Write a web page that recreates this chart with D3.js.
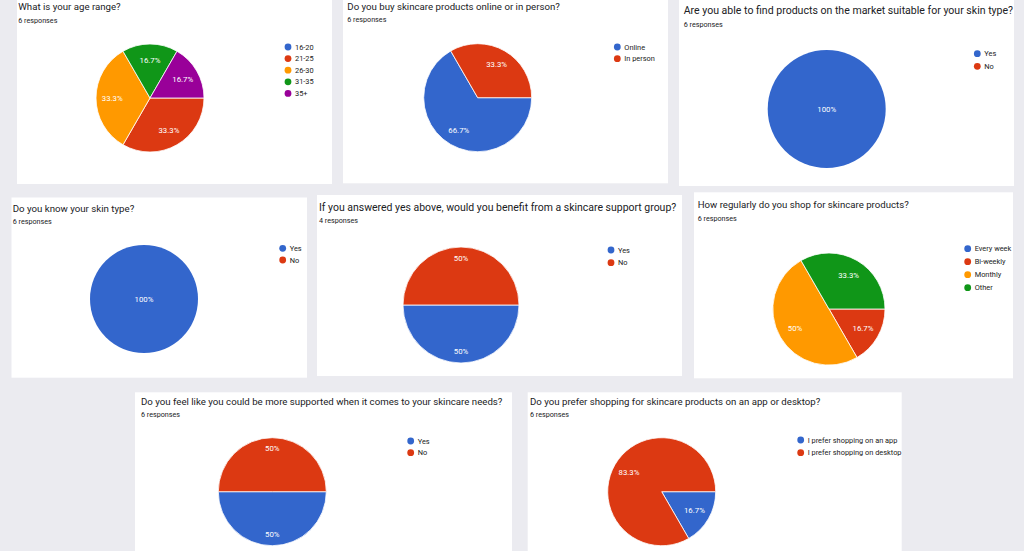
<!DOCTYPE html>
<html>
<head>
<meta charset="utf-8">
<script src="https://cdn.jsdelivr.net/npm/d3@7"></script>
<style>
  html, body { margin: 0; padding: 0; background: #ebebf0; overflow: hidden; }
  svg { display: block; font-family: Roboto, "Noto Sans", Arial, sans-serif; }
</style>
</head>
<body>
<svg id="chart" width="1024" height="551"></svg>
<script>
// ---------- DATA ----------
const questions = [
  "What is your age range?",
  "Do you buy skincare products online or in person?",
  "Are you able to find products on the market suitable for your skin type?",
  "Do you know your skin type?",
  "If you answered yes above, would you benefit from a skincare support group?",
  "How regularly do you shop for skincare products?",
  "Do you feel like you could be more supported when it comes to your skincare needs?",
  "Do you prefer shopping for skincare products on an app or desktop?"
];
const responseCounts = [6, 6, 6, 6, 4, 6, 6, 6];

const ageRanges = ["16-20", "21-25", "26-30", "31-35", "35+"];
const ageCounts = [0, 2, 2, 1, 1];

const buyChannels = ["Online", "In person"];
const buyCounts = [4, 2];

const suitableAnswers = ["Yes", "No"];
const suitableCounts = [6, 0];

const knowTypeAnswers = ["Yes", "No"];
const knowTypeCounts = [6, 0];

const groupAnswers = ["Yes", "No"];
const groupCounts = [2, 2];

const frequencies = ["Every week", "Bi-weekly", "Monthly", "Other"];
const frequencyCounts = [0, 1, 3, 2];

const supportedAnswers = ["Yes", "No"];
const supportedCounts = [3, 3];

const deviceAnswers = ["I prefer shopping on an app", "I prefer shopping on desktop"];
const deviceCounts = [1, 5];

const palette = ["#3366cc", "#dc3912", "#ff9900", "#109618", "#990099"];

const categoriesByChart = [ageRanges, buyChannels, suitableAnswers, knowTypeAnswers,
  groupAnswers, frequencies, supportedAnswers, deviceAnswers];
const valuesByChart = [ageCounts, buyCounts, suitableCounts, knowTypeCounts,
  groupCounts, frequencyCounts, supportedCounts, deviceCounts];

// ---------- LAYOUT (positions / sizes only) ----------
const layout = [
  {x: 17,    y: -5,    w: 315, h: 189,   tx: 18.3,  cx: 150,   cy: 98,    r: 54, lx: 288,   ly: 47,    ls: 11.6, ty: 10,    sy: 22.5,  tw: 102.4, lr: 0.7},
  {x: 343,   y: -5,    w: 325, h: 188.3, tx: 347.3, cx: 477.7, cy: 97.7,  r: 54, lx: 617.3, ly: 47,    ls: 11.7, ty: 10,    sy: 22.3,  tw: 212.7, lr: 0.7},
  {x: 679,   y: -5,    w: 335, h: 191,   tx: 683.7, cx: 826.7, cy: 109,   r: 59, lx: 977.3, ly: 53.7,  ls: 12.6, ty: 14,    sy: 27.3,  tw: 329.7, lr: 0.7},
  {x: 11.5,  y: 197.5, w: 295.5, h: 180.2, tx: 12.7, cx: 144,  cy: 299,   r: 54, lx: 282.7, ly: 248.3, ls: 11.7, ty: 211.7, sy: 223.7, tw: 121.7, lr: 0.7},
  {x: 317,   y: 195,   w: 365, h: 181,   tx: 319,   cx: 461,   cy: 305,   r: 58, lx: 611,   ly: 250,   ls: 12.7, ty: 211,   sy: 223.3, tw: 357.7, lr: 0.8},
  {x: 694,   y: 192.3, w: 319, h: 186,   tx: 697.7, cx: 829,   cy: 309,   r: 56, lx: 967.7, ly: 248.7, ls: 13,   ty: 207.7, sy: 221,   tw: 211.3, lr: 0.7},
  {x: 135,   y: 392.3, w: 377, h: 170,   tx: 141,   cx: 272.3, cy: 491.7, r: 54, lx: 410.7, ly: 441,   ls: 11.7, ty: 405,   sy: 416.7, tw: 362.3, lr: 0.8},
  {x: 527.7, y: 392.3, w: 374, h: 170,   tx: 530,   cx: 661.7, cy: 491.7, r: 54, lx: 800.7, ly: 440,   ls: 12.7, ty: 405,   sy: 416.7, tw: 290.7, lr: 0.7}
];

// ---------- DRAW ----------
const svg = d3.select("#chart");
const color = d3.scaleOrdinal().domain(d3.range(palette.length)).range(palette);

questions.forEach((q, i) => {
  const L = layout[i];
  const cats = categoriesByChart[i];
  const vals = valuesByChart[i];
  const total = d3.sum(vals);
  const g = svg.append("g");

  g.append("rect").attr("x", L.x).attr("y", L.y).attr("width", L.w).attr("height", L.h)
    .attr("fill", "#ffffff");

  const title = g.append("text").attr("x", L.tx).attr("y", L.ty)
    .attr("fill", "#202124").attr("font-size", 12).text(q);
  const tl = title.node().getComputedTextLength();
  const fs = 12 * L.tw / tl;
  title.attr("font-size", fs.toFixed(2));

  g.append("text").attr("x", L.tx).attr("y", L.sy)
    .attr("fill", "#202124").attr("font-size", 7.2)
    .text(responseCounts[i] + " responses");

  const pie = d3.pie().sort(null).value(d => d.v)
    .startAngle(Math.PI / 2).endAngle(Math.PI / 2 + 2 * Math.PI);
  const arcs = pie(cats.map((c, k) => ({c, v: vals[k], k})));
  const arc = d3.arc().innerRadius(0).outerRadius(L.r);
  const labelArc = d3.arc().innerRadius(L.r * L.lr).outerRadius(L.r * L.lr);

  const pg = g.append("g").attr("transform", `translate(${L.cx},${L.cy})`);
  pg.selectAll("path").data(arcs.filter(a => a.data.v > 0)).join("path")
    .attr("d", arc)
    .attr("fill", a => color(a.data.k))
    .attr("stroke", "#ffffff").attr("stroke-width", a => a.data.v === total ? 0 : 0.8);

  pg.selectAll("text").data(arcs.filter(a => a.data.v > 0)).join("text")
    .attr("transform", a => a.data.v === total ? "translate(0,0)" : `translate(${labelArc.centroid(a)})`)
    .attr("text-anchor", "middle").attr("dominant-baseline", "central")
    .attr("fill", "#ffffff").attr("font-size", 7.8)
    .text(a => {
      const p = a.data.v / total * 100;
      return (Math.round(p * 10) / 10) + "%";
    });

  const lg = g.append("g");
  cats.forEach((c, k) => {
    lg.append("circle").attr("cx", L.lx).attr("cy", L.ly + k * L.ls).attr("r", 3.4)
      .attr("fill", color(k));
    lg.append("text").attr("x", L.lx + 7).attr("y", L.ly + k * L.ls)
      .attr("dominant-baseline", "central").attr("fill", "#222222")
      .attr("font-size", 7.4).text(c);
  });
});
</script>
</body>
</html>
